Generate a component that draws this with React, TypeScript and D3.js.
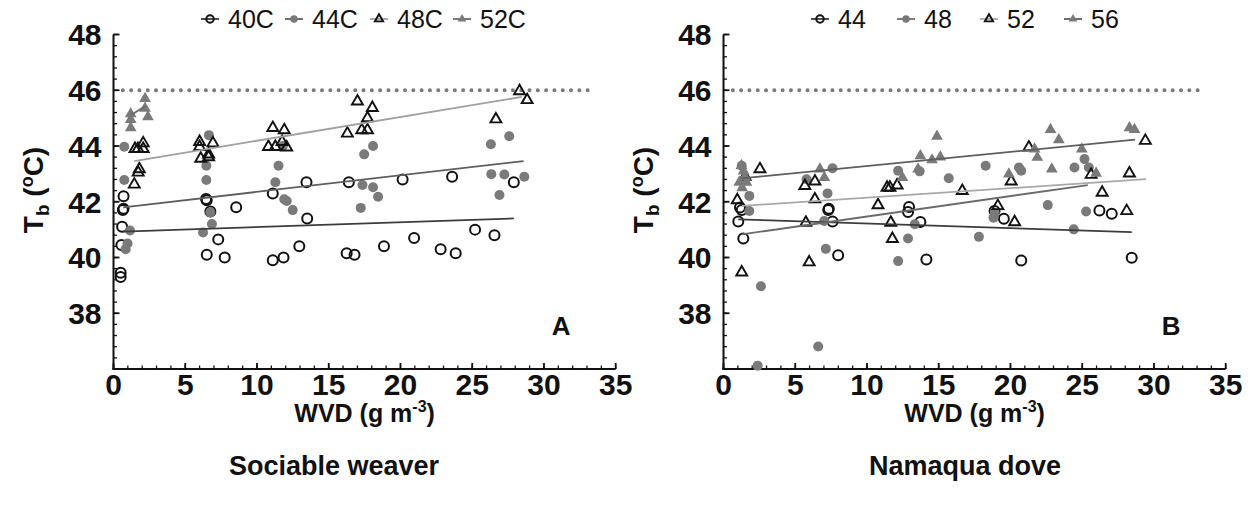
import React from "react";
import * as d3 from "d3";

// ---------- data ----------
const xTickValues = [0, 5, 10, 15, 20, 25, 30, 35];
const yTickValues = [38, 40, 42, 44, 46, 48];
const thresholdTb = 46;

// Sociable weaver (panel A)
const weaverLabels = ["40C", "44C", "48C", "52C"];
const weaver40: [number, number][] = [
  [0.5, 39.3], [0.5, 39.45], [0.55, 40.45], [0.6, 41.1], [0.65, 41.7], [0.7, 41.75], [0.7, 42.2],
  [6.45, 42.1], [6.5, 42.05], [6.75, 41.65], [6.5, 40.1], [7.3, 40.65], [7.75, 40.0], [8.55, 41.8],
  [11.1, 42.3], [11.1, 39.9], [11.85, 40.0], [12.95, 40.4], [13.5, 41.4], [13.45, 42.7],
  [16.25, 40.15], [16.8, 40.1], [16.4, 42.7], [18.85, 40.4], [20.15, 42.8], [20.95, 40.7],
  [22.8, 40.3], [23.6, 42.9], [23.85, 40.15], [25.2, 41.0], [26.55, 40.8], [27.9, 42.7],
];
const weaver44: [number, number][] = [
  [0.75, 43.97], [0.75, 42.78], [1.15, 40.97], [0.98, 40.5], [0.85, 40.3],
  [6.65, 44.39], [6.47, 43.29], [6.47, 42.78], [6.75, 41.62], [6.86, 41.2], [6.24, 40.9],
  [11.5, 43.29], [11.28, 42.7], [11.9, 42.09], [12.07, 42.03], [12.49, 41.7], [11.8, 44.0],
  [17.47, 43.7], [18.09, 44.0], [17.35, 42.6], [18.09, 42.52], [18.44, 42.18], [17.23, 41.78],
  [26.3, 44.06], [27.58, 44.35], [26.33, 42.99], [27.24, 42.98], [28.63, 42.9], [26.9, 42.24],
];
const weaver48: [number, number][] = [
  [1.45, 42.62], [1.72, 43.05], [1.8, 43.17], [1.5, 43.9], [1.7, 43.9], [2.07, 43.9], [2.07, 44.1],
  [6.0, 44.15], [6.0, 43.97], [6.08, 43.55], [6.63, 43.7], [6.63, 43.6], [6.93, 44.1],
  [11.1, 44.65], [10.8, 43.97], [11.28, 43.97], [11.9, 44.57], [11.75, 44.15], [12.07, 43.95],
  [17.0, 45.6], [18.04, 45.37], [17.7, 45.0], [16.3, 44.45], [17.3, 44.57], [17.7, 44.57],
  [26.65, 44.96], [28.3, 45.97], [28.83, 45.65],
];
const weaver52: [number, number][] = [
  [1.2, 45.15], [1.2, 44.95], [1.2, 44.65], [2.2, 45.7], [2.2, 45.35], [2.4, 45.05],
];
const weaver40Fit: [number, number][] = [[0.68, 40.93], [27.9, 41.4]];
const weaver44Fit: [number, number][] = [[0.68, 41.8], [28.58, 43.46]];
const weaver48Fit: [number, number][] = [[1.45, 43.46], [28.46, 45.76]];
const weaver52Fit: [number, number][] = [[1.2, 45.1], [2.2, 45.43]];

// Namaqua dove (panel B)
const doveLabels = ["44", "48", "52", "56"];
const dove44: [number, number][] = [
  [1.03, 41.29], [1.15, 41.79], [1.27, 41.7], [1.38, 40.68],
  [7.34, 41.75], [7.3, 41.7], [7.6, 41.29], [7.99, 40.08],
  [12.93, 41.81], [12.86, 41.63], [13.72, 41.27], [14.14, 39.93],
  [18.89, 41.67], [19.54, 41.39], [20.75, 39.89], [26.2, 41.69], [27.06, 41.57], [28.45, 39.99],
];
const dove48: [number, number][] = [
  [1.27, 43.29], [1.8, 42.21], [1.8, 41.67], [2.61, 38.97], [2.38, 36.12],
  [5.79, 42.81], [7.6, 43.2], [7.25, 42.3], [7.02, 41.31], [7.13, 40.31], [6.6, 36.81],
  [12.17, 39.87], [12.17, 43.11], [12.86, 40.68], [13.67, 43.09], [13.33, 41.19],
  [15.7, 42.84], [17.8, 40.74], [18.27, 43.29], [18.82, 41.43], [18.9, 41.6],
  [20.59, 43.23], [20.75, 43.11], [22.6, 41.88], [24.41, 41.01], [24.46, 43.23],
  [25.16, 43.53], [25.46, 43.23], [25.27, 41.65],
];
const dove52: [number, number][] = [
  [0.96, 42.06], [1.27, 39.47], [2.54, 43.17], [1.5, 42.9],
  [5.67, 42.57], [5.74, 41.25], [5.97, 39.83], [6.37, 42.73], [6.37, 42.09],
  [10.77, 41.88], [11.4, 42.51], [11.6, 42.51], [12.1, 42.59], [11.66, 41.25], [11.77, 40.67],
  [16.64, 42.39], [19.12, 41.85], [20.05, 42.73], [20.29, 41.27], [21.28, 43.95],
  [25.62, 42.97], [26.39, 42.33], [28.29, 43.02], [28.1, 41.67], [29.4, 44.19],
];
const dove56: [number, number][] = [
  [1.1, 42.7], [1.25, 43.3], [1.3, 42.5], [1.5, 42.9], [1.6, 42.7], [1.4, 43.1],
  [6.72, 43.17], [7.03, 42.87], [12.47, 42.87], [13.56, 43.17], [13.72, 43.65],
  [14.53, 43.5], [14.88, 44.35], [15.11, 43.6],
  [19.89, 42.99], [21.68, 43.89], [21.87, 43.59], [22.79, 44.59], [22.88, 43.17], [23.37, 44.22],
  [24.97, 43.89], [25.97, 43.02], [28.29, 44.65], [28.64, 44.59],
];
const dove44Fit: [number, number][] = [[1.03, 41.37], [28.45, 40.91]];
const dove48Fit: [number, number][] = [[1.27, 40.83], [25.39, 42.6]];
const dove52Fit: [number, number][] = [[1.27, 41.85], [29.45, 42.81]];
const dove56Fit: [number, number][] = [[1.27, 42.84], [28.68, 44.23]];

// ---------- styling ----------
const FONT = "'Liberation Sans', Arial, Helvetica, sans-serif";
const GRAY = "#7a7a7a";
type Kind = "oc" | "fc" | "ot" | "ft";
const kinds: Kind[] = ["oc", "fc", "ot", "ft"];

function Marker({ kind, x, y, scale = 1 }: { kind: Kind; x: number; y: number; scale?: number }) {
  if (kind === "oc") return <circle cx={x} cy={y} r={5 * scale} fill="none" stroke="#111" strokeWidth={2} />;
  if (kind === "fc") return <circle cx={x} cy={y} r={5 * scale} fill={GRAY} />;
  const path = d3.symbol(d3.symbolTriangle, (kind === "ot" ? 52 : 60) * scale * scale)() || "";
  if (kind === "ot")
    return <path d={path} transform={`translate(${x},${y})`} fill="none" stroke="#111" strokeWidth={1.9} />;
  return <path d={path} transform={`translate(${x},${y})`} fill={GRAY} />;
}

type Series = { data: [number, number][]; fit: [number, number][]; kind: Kind; color: string };

function Panel(props: {
  ox: number;
  series: Series[];
  labels: string[];
  legendX: number[];
  title: string;
  titleX: number;
  letter: string;
}) {
  const { ox, series, labels, legendX, title, titleX, letter } = props;
  const x = d3.scaleLinear().domain([0, 35]).range([113.5 + ox, 615.7 + ox]);
  const y = d3.scaleLinear().domain([36, 48]).range([369, 34.5]);
  const minorX = d3.range(0, 35.001, 1);
  const minorY = d3.range(36, 48.001, 0.4);
  const line = d3.line<[number, number]>().x((d) => x(d[0])).y((d) => y(d[1]));
  const x0 = x(0);
  const y0 = y(36);
  return (
    <g fontFamily={FONT}>
      {/* threshold dotted line */}
      <line
        x1={x(0.65)} x2={x(33.6)} y1={y(thresholdTb)} y2={y(thresholdTb)}
        stroke={GRAY} strokeWidth={4} strokeLinecap="round" strokeDasharray="0 8.3"
      />
      {/* axes */}
      <line x1={x0} x2={x0} y1={y(48)} y2={y0 + 1} stroke="#111" strokeWidth={2} />
      <line x1={x0 - 1} x2={x(35)} y1={y0} y2={y0} stroke="#111" strokeWidth={2} />
      {minorY.map((v, i) => (
        <line key={"my" + i} x1={x0} x2={x0 + 3.5} y1={y(v)} y2={y(v)} stroke="#111" strokeWidth={1.3} />
      ))}
      {yTickValues.map((v) => (
        <g key={"ty" + v}>
          <line x1={x0} x2={x0 + 6} y1={y(v)} y2={y(v)} stroke="#111" strokeWidth={1.8} />
          <text x={x0 - 12} y={y(v)} dy="0.36em" textAnchor="end" fontSize={30} fontWeight="bold" fill="#111">
            {v}
          </text>
        </g>
      ))}
      {minorX.map((v, i) => (
        <line key={"mx" + i} x1={x(v)} x2={x(v)} y1={y0} y2={y0 - 3.5} stroke="#111" strokeWidth={1.3} />
      ))}
      {xTickValues.map((v) => (
        <g key={"tx" + v}>
          <line x1={x(v)} x2={x(v)} y1={y0} y2={y0 - 6} stroke="#111" strokeWidth={1.8} />
          <text x={x(v)} y={395} textAnchor="middle" fontSize={30} fontWeight="bold" fill="#111">
            {v}
          </text>
        </g>
      ))}
      {/* points */}
      {series.map((s, si) =>
        s.data.map((d, i) => <Marker key={si + "-" + i} kind={s.kind} x={x(d[0])} y={y(d[1])} />)
      )}
      {/* fit lines */}
      {series.map((s, si) => (
        <path key={"fit" + si} d={line(s.fit) || ""} fill="none" stroke={s.color} strokeWidth={1.8} />
      ))}
      {/* legend */}
      {labels.map((lab, i) => (
        <g key={"lg" + i}>
          <line x1={legendX[i] - 9} x2={legendX[i] + 9} y1={19} y2={19} stroke={series[i].color} strokeWidth={1.8} />
          <Marker kind={series[i].kind} x={legendX[i]} y={19} scale={0.75} />
          <text x={legendX[i] + 18} y={19} dy="0.36em" fontSize={25} fill="#111">
            {lab}
          </text>
        </g>
      ))}
      {/* axis titles */}
      <text
        transform={`translate(${ox + 43},${190}) rotate(-90)`}
        textAnchor="middle" fontSize={28} fontWeight="bold" fill="#111"
      >
        T<tspan fontSize={19} dy={6}>b</tspan>
        <tspan dy={-6}> (</tspan>
        <tspan fontSize={18} dy={-10}>o</tspan>
        <tspan dy={10}>C)</tspan>
      </text>
      <text x={x(17.5)} y={422} textAnchor="middle" fontSize={25} fontWeight="bold" fill="#111">
        WVD (g m<tspan fontSize={16} dy={-10}>-3</tspan>
        <tspan dy={10}>)</tspan>
      </text>
      <text x={titleX} y={475} textAnchor="middle" fontSize={27} fontWeight="bold" fill="#111">
        {title}
      </text>
      <text x={x(31.2)} y={335} textAnchor="middle" fontSize={26} fontWeight="bold" fill="#111">
        {letter}
      </text>
    </g>
  );
}

export default function App() {
  const leftSeries: Series[] = [
    { data: weaver40, fit: weaver40Fit, kind: kinds[0], color: "#3c3c3c" },
    { data: weaver44, fit: weaver44Fit, kind: kinds[1], color: "#5e5e5e" },
    { data: weaver48, fit: weaver48Fit, kind: kinds[2], color: "#a0a0a0" },
    { data: weaver52, fit: weaver52Fit, kind: kinds[3], color: "#6a6a6a" },
  ];
  const rightSeries: Series[] = [
    { data: dove44, fit: dove44Fit, kind: kinds[0], color: "#3c3c3c" },
    { data: dove48, fit: dove48Fit, kind: kinds[1], color: "#6a6a6a" },
    { data: dove52, fit: dove52Fit, kind: kinds[2], color: "#a8a8a8" },
    { data: dove56, fit: dove56Fit, kind: kinds[3], color: "#5e5e5e" },
  ];
  return (
    <svg
      width={1256}
      height={506}
      style={{ position: "absolute", left: 0, top: 0, display: "block", background: "#fff" }}
    >
      <rect width={1256} height={506} fill="#fff" />
      <Panel
        ox={0} series={leftSeries} labels={weaverLabels} legendX={[210, 294, 379, 462]}
        title="Sociable weaver" titleX={334} letter="A"
      />
      <Panel
        ox={610} series={rightSeries} labels={doveLabels} legendX={[820, 906, 989, 1073]}
        title="Namaqua dove" titleX={965} letter="B"
      />
    </svg>
  );
}
